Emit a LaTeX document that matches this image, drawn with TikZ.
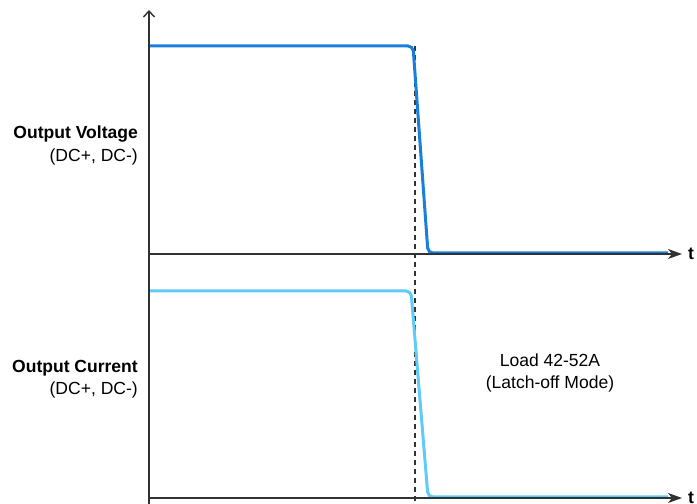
\documentclass[tikz,border=0pt]{standalone}
\usepackage{fontspec}
\setmainfont{Liberation Sans}
\usetikzlibrary{arrows.meta}
\tikzset{>={Stealth[length=14bp,width=10bp,inset=4bp]}}
\definecolor{voltblue}{RGB}{24,128,218}
\definecolor{currblue}{RGB}{96,202,248}
\definecolor{axisgray}{RGB}{50,50,50}

\begin{document}
\begin{tikzpicture}[x=1bp,y=1bp,
    axis/.style={draw=axisgray, line width=1.4bp},
    trace/.style={line width=3bp, rounded corners=5bp},
    guide/.style={draw=axisgray, line width=1.2bp, dash pattern=on 5bp off 4bp},
    lbl/.style={font=\fontsize{17.6}{22.5}\selectfont, inner sep=0pt},
  ]
  \useasboundingbox (0,0) rectangle (697,504);
  % axes
  \coordinate (O) at (149,0);
  \coordinate (ytip) at (149,494);
  \coordinate (v0) at (149,250);
  \coordinate (vtip) at (682,250);
  \coordinate (i0) at (149,6);
  \coordinate (itip) at (682,6);
  % trip instant
  \coordinate (trip) at (415,458);
  \coordinate (tripend) at (415,0);
  \draw[guide] (trip) -- (tripend);
  % voltage trace
  \coordinate (vs) at (149,458);
  \coordinate (va) at (413,458);
  \coordinate (vb) at (428,251);
  \coordinate (ve) at (668,251);
  \draw[trace, voltblue] (vs) -- (va) -- (vb) -- (ve);
  % current trace
  \coordinate (is) at (149,213);
  \coordinate (ia) at (411,213);
  \coordinate (ib) at (428,7);
  \coordinate (ie) at (668,7);
  \draw[trace, currblue] (is) -- (ia) -- (ib) -- (ie);
  \draw[axis, -{Straight Barb[length=6bp,width=11bp]}] (O) -- (ytip);
  \draw[axis, ->] (v0) -- (vtip);
  \draw[axis, ->] (i0) -- (itip);
  \node[lbl, anchor=west, font=\fontsize{17.6}{22.5}\selectfont\bfseries] (tv) at (688,250) {t};
  \node[lbl, anchor=west, font=\fontsize{17.6}{22.5}\selectfont\bfseries] (ti) at (688,6) {t};
  % labels
  \node[lbl, align=right, anchor=east] (voltlbl) at (138,358.5)
    {\textbf{Output Voltage}\\(DC+, DC-)};
  \node[lbl, align=right, anchor=east] (currlbl) at (138,125)
    {\textbf{Output Current}\\(DC+, DC-)};
  \node[lbl, align=center] (loadlbl) at (550,131)
    {Load 42-52A\\(Latch-off Mode)};
\end{tikzpicture}
\end{document}
